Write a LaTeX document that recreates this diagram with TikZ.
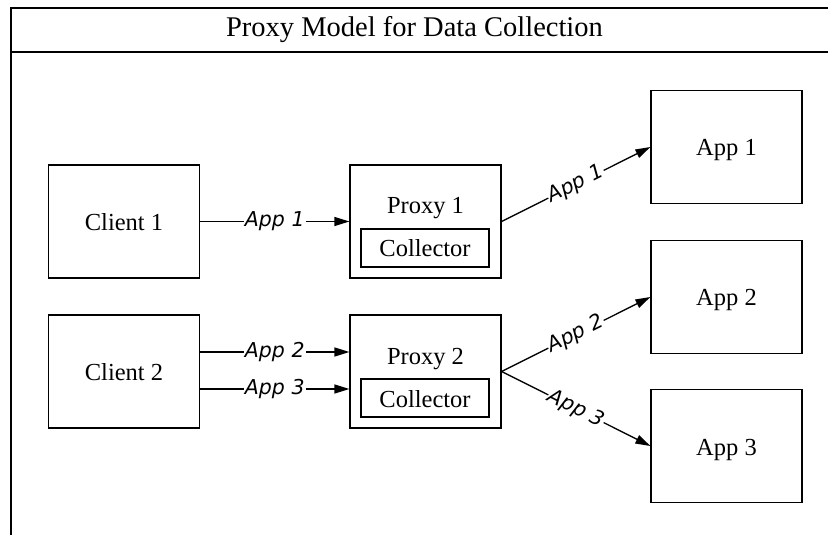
\documentclass[tikz,border=0pt]{standalone}
\usepackage{fontspec}
\setmainfont{Liberation Serif}
\newfontfamily\labelfont{DejaVu Sans}
\usetikzlibrary{arrows.meta,calc}

\begin{document}
\begin{tikzpicture}[x=1bp,y=-1bp,
  frame/.style={line width=1.3bp},
  box/.style={draw, line width=1.2bp, minimum width=151bp, minimum height=113bp,
    inner sep=0pt, text height=18bp, text depth=0pt,
    font=\fontsize{24.5bp}{28bp}\selectfont},
  subbox/.style={box, minimum width=128bp, minimum height=38bp},
  boxtext/.style={anchor=base, inner sep=0pt, font=\fontsize{24.5bp}{28bp}\selectfont},
  flow/.style={line width=1.3bp, -{Triangle[length=15bp,width=9bp]}},
  flowlabel/.style={fill=white, inner sep=1bp,
    font=\labelfont\itshape\fontsize{20.5bp}{23bp}\selectfont}]

\useasboundingbox (0,0) rectangle (828,535);

% outer frame and title bar
\coordinate (ftl) at (11,8);
\coordinate (ftr) at (830,8);
\coordinate (fbl) at (11,537);
\coordinate (sepl) at (11,52);
\coordinate (sepr) at (830,52);
\draw[frame] (fbl) -- (ftl) -- (ftr);
\draw[frame] (sepl) -- (sepr);
\node[font=\fontsize{28.5bp}{32bp}\selectfont] (title) at (414.5,30) {Proxy Model for Data Collection};

% clients
\node[box] (c1) at (124,221.5) {Client 1};
\node[box] (c2) at (124,371.5) {Client 2};

% proxies with their collectors
\node[box] (p1) at (425.5,221.5) {};
\node[boxtext] (p1t) at (425.5,214) {Proxy 1};
\node[subbox] (k1) at (425,248) {Collector};
\node[box] (p2) at (425.5,371.5) {};
\node[boxtext] (p2t) at (425.5,364) {Proxy 2};
\node[subbox] (k2) at (425,398) {Collector};

% applications
\node[box] (a1) at (726.5,147) {App 1};
\node[box] (a2) at (726.5,297) {App 2};
\node[box] (a3) at (726.5,446) {App 3};

% client to proxy traffic
\draw[flow] (c1.east) -- node[flowlabel] {App 1} (p1.west);
\draw[flow] ($(c2.east)+(0,-19.5)$) -- node[flowlabel] {App 2} ($(p2.west)+(0,-19.5)$);
\draw[flow] ($(c2.east)+(0,17.5)$) -- node[flowlabel] {App 3} ($(p2.west)+(0,17.5)$);

% proxy to application traffic
\draw[flow] (p1.east) -- node[flowlabel, sloped] {App 1} (a1.west);
\draw[flow] (p2.east) -- node[flowlabel, sloped] {App 2} (a2.west);
\draw[flow] (p2.east) -- node[flowlabel, sloped] {App 3} (a3.west);
\end{tikzpicture}
\end{document}
